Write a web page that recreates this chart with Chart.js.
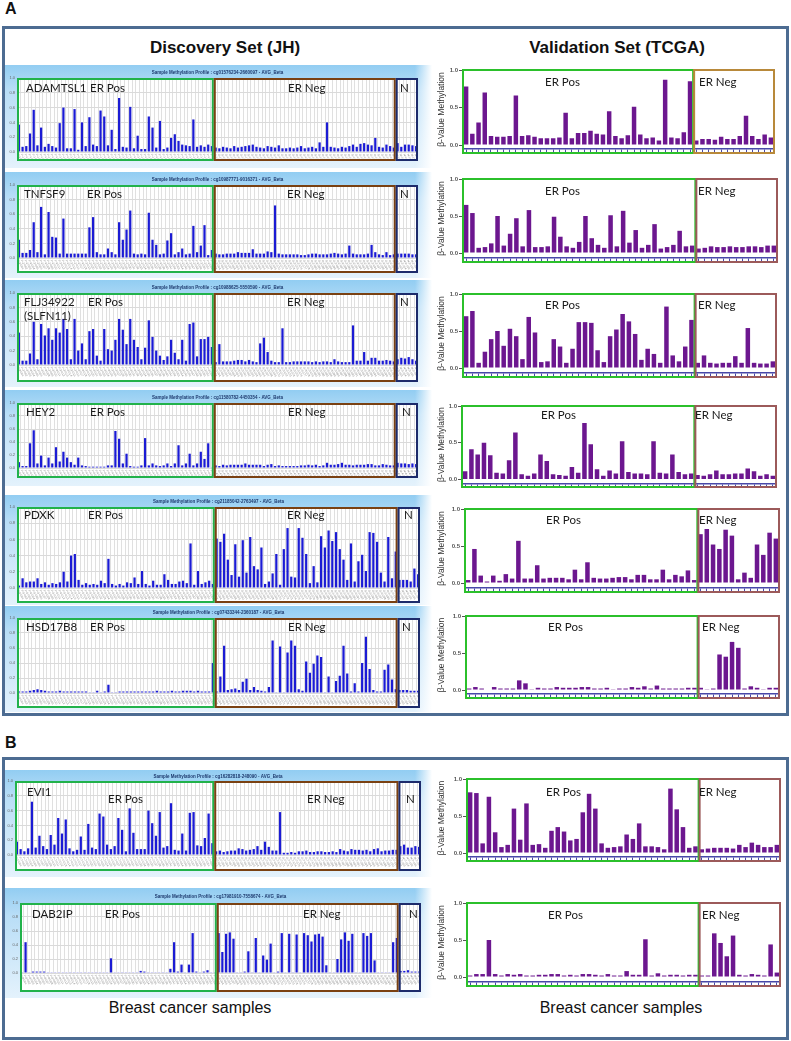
<!DOCTYPE html>
<html>
<head>
<meta charset="utf-8">
<script src="https://cdn.jsdelivr.net/npm/chart.js@4.4.1/dist/chart.umd.min.js"></script>
<style>
    body { margin: 0; width: 791px; height: 1041px; background: #fff; position: relative; overflow: hidden; font-family: "Liberation Sans", Arial, sans-serif; }
    .frame { position: absolute; border: 3px solid #4d6c92; box-sizing: border-box; }
    .letter { position: absolute; font-weight: bold; font-size: 16px; color: #111; }
    .head { position: absolute; width: 320px; text-align: center; font-weight: bold; font-size: 17px; color: #111; }
    .foot { position: absolute; width: 240px; text-align: center; font-size: 16px; color: #111; }
    .panel { position: absolute; left: 5px; width: 427px;
        background: linear-gradient(to right, rgba(255,255,255,0) 0%, rgba(255,255,255,0) 96%, #fff 100%),
                    linear-gradient(to bottom, #92cdf2 0%, #b9def7 25%, #e4f2fc 100%); }
    canvas { position: absolute; }
</style>
</head>
<body>
<div class="letter" style="left:5px;top:0px">A</div>
<div class="frame" style="left:2px;top:26px;width:787px;height:690px"></div>
<div class="head" style="left:65px;top:38px">Discovery Set (JH)</div>
<div class="head" style="left:457px;top:38px">Validation Set (TCGA)</div>
<div class="letter" style="left:5px;top:734px">B</div>
<div class="frame" style="left:2px;top:757px;width:787px;height:283px"></div>
<div class="foot" style="left:70px;top:999px">Breast cancer samples</div>
<div class="foot" style="left:501px;top:999px">Breast cancer samples</div>

<script>
// Tick values
const yTicksJH = [0, 0.2, 0.4, 0.6, 0.8, 1.0];
const yTicksTCGA = [0, 0.5, 1.0];

// ADAMTSL1
const adamtsl1JhPos = [0.37,0.07,0.08,0.25,0.57,0.09,0.33,0.07,0.11,0.08,0.06,0.39,0.60,0.05,0.05,0.58,0.03,0.40,0.08,0.47,0.10,0.08,0.56,0.48,0.09,0.30,0.04,0.73,0.07,0.06,0.61,0.05,0.22,0.04,0.04,0.48,0.33,0.06,0.42,0.04,0.06,0.19,0.24,0.15,0.10,0.09,0.08,0.44,0.07,0.09,0.07,0.10,0.08];
const adamtsl1JhNeg = [0.06,0.05,0.07,0.06,0.05,0.08,0.06,0.07,0.08,0.09,0.10,0.07,0.06,0.05,0.08,0.07,0.06,0.09,0.05,0.05,0.06,0.05,0.06,0.08,0.05,0.06,0.07,0.05,0.13,0.07,0.40,0.07,0.06,0.05,0.07,0.06,0.08,0.10,0.07,0.11,0.12,0.10,0.09,0.19,0.07,0.06,0.10,0.08,0.06];
const adamtsl1JhN = [0.12,0.07,0.10,0.10,0.09,0.08];
const adamtsl1TcgaPos = [0.78,0.15,0.30,0.70,0.12,0.11,0.11,0.12,0.66,0.12,0.13,0.11,0.09,0.09,0.09,0.10,0.43,0.09,0.16,0.16,0.19,0.15,0.14,0.45,0.12,0.09,0.13,0.51,0.14,0.09,0.10,0.06,0.87,0.10,0.09,0.17,0.85];
const adamtsl1TcgaNeg = [0.06,0.08,0.08,0.07,0.11,0.08,0.08,0.12,0.39,0.12,0.08,0.14,0.10];

// TNFSF9
const tnfsf9JhPos = [0.25,0.07,0.07,0.11,0.49,0.08,0.70,0.05,0.63,0.29,0.28,0.06,0.54,0.06,0.06,0.06,0.06,0.06,0.06,0.42,0.56,0.08,0.05,0.05,0.13,0.08,0.05,0.49,0.25,0.39,0.65,0.06,0.05,0.06,0.05,0.62,0.25,0.18,0.05,0.06,0.24,0.34,0.05,0.08,0.13,0.05,0.06,0.44,0.08,0.17,0.45,0.04,0.11];
const tnfsf9JhNeg = [0.06,0.05,0.05,0.06,0.06,0.06,0.08,0.07,0.07,0.07,0.12,0.06,0.06,0.06,0.09,0.08,0.72,0.06,0.05,0.05,0.05,0.05,0.05,0.04,0.04,0.05,0.06,0.06,0.05,0.05,0.05,0.06,0.07,0.06,0.05,0.06,0.17,0.06,0.05,0.05,0.05,0.06,0.18,0.08,0.05,0.04,0.08,0.04,0.05];
const tnfsf9JhN = [0.06,0.06,0.06,0.06,0.05,0.05];
const tnfsf9TcgaPos = [0.65,0.54,0.07,0.08,0.13,0.50,0.10,0.26,0.47,0.09,0.58,0.08,0.08,0.09,0.49,0.22,0.09,0.07,0.15,0.50,0.20,0.11,0.07,0.51,0.09,0.57,0.14,0.31,0.07,0.11,0.39,0.06,0.08,0.11,0.30,0.09,0.10];
const tnfsf9TcgaNeg = [0.06,0.07,0.09,0.08,0.08,0.09,0.08,0.08,0.09,0.09,0.08,0.10,0.10];

// FLJ34922 (SLFN11)
const flj34922JhPos = [0.45,0.06,0.06,0.16,0.60,0.08,0.57,0.41,0.51,0.35,0.51,0.45,0.64,0.50,0.08,0.64,0.20,0.30,0.08,0.47,0.50,0.13,0.06,0.50,0.22,0.20,0.35,0.64,0.49,0.29,0.64,0.35,0.25,0.08,0.24,0.62,0.39,0.20,0.13,0.07,0.12,0.35,0.17,0.08,0.35,0.06,0.57,0.59,0.12,0.36,0.36,0.39,0.25];
const flj34922JhNeg = [0.04,0.29,0.05,0.05,0.05,0.06,0.07,0.07,0.05,0.07,0.05,0.04,0.30,0.38,0.18,0.06,0.04,0.04,0.51,0.04,0.04,0.05,0.05,0.05,0.05,0.05,0.04,0.05,0.04,0.05,0.05,0.04,0.08,0.05,0.04,0.04,0.04,0.55,0.06,0.06,0.18,0.06,0.10,0.10,0.06,0.06,0.07,0.06,0.05];
const flj34922JhN = [0.08,0.10,0.09,0.11,0.08,0.06];
const flj34922TcgaPos = [0.70,0.77,0.07,0.22,0.39,0.50,0.30,0.53,0.43,0.12,0.69,0.48,0.08,0.09,0.39,0.29,0.07,0.26,0.62,0.62,0.61,0.24,0.08,0.43,0.52,0.73,0.63,0.46,0.11,0.26,0.19,0.07,0.83,0.17,0.09,0.29,0.65];
const flj34922TcgaNeg = [0.07,0.17,0.07,0.06,0.07,0.07,0.16,0.07,0.54,0.07,0.06,0.06,0.09];

// HEY2
const hey2JhPos = [0.09,0.03,0.03,0.38,0.58,0.07,0.19,0.04,0.16,0.07,0.32,0.10,0.25,0.16,0.09,0.05,0.16,0.04,0.03,0.02,0.02,0.02,0.02,0.02,0.04,0.04,0.57,0.45,0.07,0.22,0.03,0.02,0.02,0.04,0.46,0.04,0.07,0.04,0.03,0.04,0.07,0.03,0.07,0.35,0.04,0.07,0.22,0.04,0.07,0.25,0.14,0.38,0.01];
const hey2JhNeg = [0.04,0.03,0.05,0.04,0.05,0.05,0.05,0.05,0.07,0.05,0.05,0.05,0.05,0.03,0.05,0.06,0.03,0.04,0.03,0.03,0.03,0.03,0.03,0.04,0.04,0.05,0.04,0.05,0.03,0.04,0.08,0.05,0.05,0.06,0.08,0.05,0.05,0.04,0.05,0.05,0.05,0.06,0.06,0.04,0.04,0.06,0.05,0.04,0.04];
const hey2JhN = [0.08,0.07,0.07,0.06,0.07,0.06];
const hey2TcgaPos = [0.11,0.41,0.34,0.50,0.33,0.09,0.08,0.26,0.64,0.07,0.05,0.08,0.34,0.25,0.07,0.06,0.05,0.17,0.09,0.77,0.48,0.14,0.05,0.12,0.08,0.52,0.10,0.08,0.08,0.07,0.52,0.09,0.08,0.34,0.10,0.07,0.08];
const hey2TcgaNeg = [0.06,0.05,0.07,0.12,0.07,0.07,0.08,0.08,0.15,0.11,0.05,0.07,0.05];

// PDXK
const pdxkJhPos = [0.03,0.12,0.07,0.08,0.08,0.12,0.05,0.07,0.04,0.06,0.05,0.07,0.20,0.08,0.40,0.42,0.10,0.04,0.06,0.04,0.05,0.04,0.09,0.06,0.36,0.05,0.03,0.05,0.03,0.07,0.06,0.13,0.05,0.21,0.05,0.03,0.09,0.04,0.04,0.17,0.10,0.05,0.05,0.08,0.09,0.06,0.55,0.04,0.21,0.05,0.07,0.09,0.05];
const pdxkJhNeg = [0.61,0.57,0.67,0.35,0.16,0.54,0.14,0.59,0.19,0.63,0.27,0.23,0.50,0.05,0.08,0.18,0.42,0.04,0.48,0.74,0.14,0.13,0.74,0.62,0.42,0.06,0.27,0.07,0.64,0.50,0.71,0.58,0.69,0.48,0.35,0.10,0.55,0.08,0.33,0.41,0.21,0.69,0.68,0.57,0.19,0.08,0.63,0.12,0.45];
const pdxkJhN = [0.10,0.10,0.10,0.08,0.24,0.17];
const pdxkTcgaPos = [0.04,0.46,0.10,0.02,0.10,0.03,0.12,0.06,0.57,0.06,0.06,0.24,0.06,0.07,0.07,0.07,0.05,0.18,0.05,0.28,0.07,0.06,0.06,0.07,0.08,0.08,0.05,0.11,0.11,0.05,0.05,0.18,0.05,0.11,0.09,0.17,0.04];
const pdxkTcgaNeg = [0.66,0.73,0.52,0.46,0.72,0.64,0.05,0.14,0.07,0.52,0.38,0.68,0.60];

// HSD17B8
const hsd17b8JhPos = [0.02,0.02,0.02,0.03,0.04,0.05,0.04,0.03,0.02,0.02,0.02,0.03,0.02,0.02,0.02,0.02,0.02,0.02,0.02,0.01,0.01,0.03,0.01,0.02,0.11,0.01,0.01,0.02,0.02,0.02,0.02,0.02,0.02,0.02,0.02,0.02,0.02,0.03,0.02,0.02,0.02,0.03,0.02,0.02,0.03,0.03,0.03,0.02,0.03,0.02,0.02,0.02,0.40];
const hsd17b8JhNeg = [0.02,0.22,0.63,0.04,0.05,0.06,0.04,0.15,0.19,0.04,0.08,0.04,0.03,0.02,0.08,0.70,0.01,0.62,0.01,0.54,0.70,0.63,0.05,0.03,0.42,0.27,0.39,0.50,0.48,0.01,0.22,0.01,0.16,0.23,0.63,0.26,0.02,0.13,0.02,0.40,0.75,0.32,0.04,0.02,0.02,0.31,0.38,0.18,0.05];
const hsd17b8JhN = [0.04,0.04,0.04,0.03,0.03,0.03];
const hsd17b8TcgaPos = [0.02,0.04,0.02,0.00,0.04,0.02,0.02,0.02,0.13,0.09,0.01,0.03,0.02,0.02,0.04,0.03,0.03,0.03,0.04,0.04,0.02,0.02,0.03,0.01,0.02,0.02,0.04,0.03,0.05,0.02,0.06,0.02,0.02,0.02,0.02,0.03,0.03];
const hsd17b8TcgaNeg = [0.03,0.01,0.02,0.48,0.45,0.65,0.57,0.02,0.05,0.03,0.01,0.03,0.03];

// EVI1
const evi1JhPos = [0.18,0.08,0.05,0.09,0.72,0.10,0.26,0.12,0.08,0.27,0.14,0.50,0.29,0.48,0.09,0.05,0.07,0.25,0.07,0.42,0.10,0.08,0.56,0.52,0.14,0.08,0.12,0.50,0.34,0.05,0.63,0.30,0.08,0.08,0.08,0.60,0.43,0.26,0.58,0.10,0.12,0.70,0.07,0.06,0.29,0.06,0.57,0.58,0.13,0.12,0.23,0.56,0.16];
const evi1JhNeg = [0.05,0.06,0.04,0.05,0.06,0.06,0.09,0.08,0.06,0.07,0.08,0.12,0.07,0.18,0.11,0.06,0.06,0.58,0.03,0.03,0.04,0.03,0.05,0.05,0.06,0.04,0.04,0.05,0.05,0.04,0.04,0.05,0.04,0.08,0.06,0.05,0.08,0.07,0.07,0.06,0.07,0.05,0.08,0.09,0.05,0.06,0.06,0.07,0.07];
const evi1JhN = [0.12,0.14,0.10,0.10,0.12,0.11];
const evi1TcgaPos = [0.82,0.81,0.13,0.76,0.28,0.08,0.11,0.60,0.18,0.67,0.11,0.12,0.07,0.30,0.35,0.29,0.17,0.19,0.55,0.80,0.60,0.13,0.07,0.08,0.09,0.25,0.19,0.40,0.09,0.09,0.08,0.05,0.87,0.59,0.35,0.07,0.09];
const evi1TcgaNeg = [0.05,0.06,0.07,0.07,0.07,0.06,0.11,0.08,0.14,0.11,0.08,0.08,0.11];

// DAB2IP
const dab2ipJhPos = [0.01,0.44,0.01,0.02,0.02,0.02,0.02,0.01,0.01,0.01,0.01,0.01,0.01,0.01,0.01,0.01,0.01,0.01,0.01,0.01,0.01,0.01,0.01,0.01,0.21,0.01,0.01,0.01,0.01,0.01,0.01,0.01,0.03,0.02,0.01,0.01,0.01,0.01,0.01,0.01,0.06,0.44,0.02,0.12,0.01,0.12,0.57,0.02,0.01,0.02,0.04,0.01,0.01];
const dab2ipJhNeg = [0.57,0.30,0.56,0.58,0.49,0.01,0.01,0.02,0.31,0.01,0.50,0.01,0.25,0.19,0.42,0.01,0.02,0.57,0.01,0.56,0.01,0.55,0.01,0.57,0.54,0.45,0.55,0.56,0.52,0.11,0.01,0.01,0.20,0.48,0.58,0.46,0.56,0.01,0.01,0.57,0.53,0.57,0.18,0.01,0.01,0.01,0.01,0.44,0.50];
const dab2ipJhN = [0.03,0.03,0.04,0.02,0.02,0.02];
const dab2ipTcgaPos = [0.02,0.04,0.04,0.50,0.04,0.02,0.04,0.03,0.04,0.02,0.02,0.03,0.03,0.04,0.04,0.02,0.03,0.02,0.04,0.04,0.03,0.02,0.04,0.02,0.02,0.08,0.03,0.03,0.51,0.02,0.05,0.02,0.03,0.03,0.02,0.03,0.03];
const dab2ipTcgaNeg = [0.02,0.02,0.59,0.46,0.28,0.56,0.03,0.02,0.04,0.03,0.02,0.44,0.06];

// Layout of the discovery (JH) panels
const jhPanels = [
    { pos: adamtsl1JhPos, neg: adamtsl1JhNeg, nrm: adamtsl1JhN, probe: 'cg01576234-2660097',
      top: 65, boxTop: 78, base: 152, boxBottom: 161, left: 17, right: 418, bgBottom: 168,
      text: [['ADAMTSL1', 26, 10], ['ER Pos', 90, 10], ['ER Neg', 288, 10], ['N', 400, 10]] },
    { pos: tnfsf9JhPos, neg: tnfsf9JhNeg, nrm: tnfsf9JhN, probe: 'cg10987771-9016371',
      top: 172, boxTop: 185, base: 258, boxBottom: 273, left: 17, right: 418, bgBottom: 278,
      text: [['TNFSF9', 24, 9], ['ER Pos', 87, 9], ['ER Neg', 287, 9], ['N', 400, 9]] },
    { pos: flj34922JhPos, neg: flj34922JhNeg, nrm: flj34922JhN, probe: 'cg10988625-5550590',
      top: 280, boxTop: 293, base: 365, boxBottom: 382, left: 17, right: 418, bgBottom: 387,
      text: [['FLJ34922', 24, 9], ['(SLFN11)', 24, 23], ['ER Pos', 88, 9], ['ER Neg', 287, 9], ['N', 400, 9]] },
    { pos: hey2JhPos, neg: hey2JhNeg, nrm: hey2JhN, probe: 'cg11580782-4450354',
      top: 390, boxTop: 403, base: 468, boxBottom: 478, left: 17, right: 418, bgBottom: 486,
      text: [['HEY2', 26, 9], ['ER Pos', 90, 9], ['ER Neg', 288, 9], ['N', 402, 9]] },
    { pos: pdxkJhPos, neg: pdxkJhNeg, nrm: pdxkJhN, probe: 'cg21185042-2763497',
      top: 495, boxTop: 507, base: 588, boxBottom: 603, left: 17, right: 420, bgBottom: 605,
      text: [['PDXK', 24, 8], ['ER Pos', 88, 8], ['ER Neg', 287, 8], ['N', 404, 8]] },
    { pos: hsd17b8JhPos, neg: hsd17b8JhNeg, nrm: hsd17b8JhN, probe: 'cg07433344-2360187',
      top: 606, boxTop: 618, base: 693, boxBottom: 708, left: 17, right: 420, bgBottom: 712,
      text: [['HSD17B8', 26, 9], ['ER Pos', 90, 9], ['ER Neg', 288, 9], ['N', 402, 9]] },
    { pos: evi1JhPos, neg: evi1JhNeg, nrm: evi1JhN, probe: 'cg16282818-248090',
      top: 770, boxTop: 781, base: 855, boxBottom: 871, left: 15, right: 421, bgBottom: 877,
      text: [['EVI1', 27, 11], ['ER Pos', 108, 18], ['ER Neg', 307, 18], ['N', 406, 18]] },
    { pos: dab2ipJhPos, neg: dab2ipJhNeg, nrm: dab2ipJhN, probe: 'cg17981910-7558674',
      top: 888, boxTop: 903, base: 973, boxBottom: 992, left: 20, right: 421, bgBottom: 998,
      text: [['DAB2IP', 32, 11], ['ER Pos', 105, 11], ['ER Neg', 303, 11], ['N', 409, 11]] }
];

// Layout of the validation (TCGA) panels
const tcgaPanels = [
    { pos: adamtsl1TcgaPos, neg: adamtsl1TcgaNeg, top: 70, zero: 145, axis: 149, bottom: 154, left: 463, right: 774, negColor: '#b8893a', text: [['ER Pos', 545, 12], ['ER Neg', 699, 12]] },
    { pos: tnfsf9TcgaPos, neg: tnfsf9TcgaNeg, top: 179, zero: 253, axis: 258, bottom: 263, left: 463, right: 777, negColor: '#9c5a5a', text: [['ER Pos', 545, 12], ['ER Neg', 698, 12]] },
    { pos: flj34922TcgaPos, neg: flj34922TcgaNeg, top: 294, zero: 368, axis: 373, bottom: 378, left: 463, right: 776, negColor: '#9c5a5a', text: [['ER Pos', 545, 11], ['ER Neg', 698, 11]] },
    { pos: hey2TcgaPos, neg: hey2TcgaNeg, top: 406, zero: 480, axis: 484, bottom: 488, left: 462, right: 776, negColor: '#9c5a5a', text: [['ER Pos', 541, 9], ['ER Neg', 695, 9]] },
    { pos: pdxkTcgaPos, neg: pdxkTcgaNeg, top: 509, zero: 583, axis: 588, bottom: 593, left: 465, right: 779, negColor: '#9c5a5a', text: [['ER Pos', 546, 11], ['ER Neg', 699, 11]] },
    { pos: hsd17b8TcgaPos, neg: hsd17b8TcgaNeg, top: 616, zero: 690, axis: 694, bottom: 699, left: 466, right: 779, negColor: '#9c5a5a', text: [['ER Pos', 548, 11], ['ER Neg', 702, 11]] },
    { pos: evi1TcgaPos, neg: evi1TcgaNeg, top: 779, zero: 853, axis: 857, bottom: 862, left: 467, right: 780, negColor: '#9c5a5a', text: [['ER Pos', 546, 13], ['ER Neg', 699, 13]] },
    { pos: dab2ipTcgaPos, neg: dab2ipTcgaNeg, top: 903, zero: 977, axis: 982, bottom: 987, left: 467, right: 780, negColor: '#9c5a5a', text: [['ER Pos', 548, 12], ['ER Neg', 702, 12]] }
];

Chart.defaults.font.family = '"Liberation Sans", Arial, sans-serif';
const boxFont = '11.5px Lato, "Open Sans", sans-serif';
const JH_LEFT = 5;
const TCGA_LEFT = 434;

function addCanvas(left, top, w, h) {
    const cv = document.createElement('canvas');
    cv.width = w; cv.height = h;
    cv.style.left = left + 'px'; cv.style.top = top + 'px';
    document.body.appendChild(cv);
    return cv;
}

// boundary between category i-1 and i
function splitAt(x, i) {
    return (x.getPixelForValue(i - 1) + x.getPixelForValue(i)) / 2;
}

function drawLabels(ctx, text, boxTop) {
    ctx.font = boxFont;
    ctx.fillStyle = '#1a1a1a';
    ctx.textBaseline = 'middle';
    ctx.textAlign = 'left';
    text.forEach(([t, x, dy]) => ctx.fillText(t, x, boxTop + dy));
}

const jhDecor = (p) => ({
    id: 'jhDecor',
    beforeDraw(chart) {
        const { ctx, chartArea: a } = chart;
        ctx.save();
        ctx.fillStyle = '#fff';
        ctx.fillRect(a.left, a.top, a.right - a.left, chart.height - a.top);
        ctx.restore();
    },
    afterDraw(chart) {
        const { ctx, chartArea: a, scales: { x } } = chart;
        const bottom = chart.height - 1;
        ctx.save();
        // sample ids under the bars
        ctx.font = '3px "Liberation Sans"';
        ctx.fillStyle = '#8a8a8a';
        ctx.textBaseline = 'middle';
        chart.data.labels.forEach((lab, i) => {
            ctx.save();
            ctx.translate(x.getPixelForValue(i) - 1, a.bottom + 2);
            ctx.rotate(Math.PI / 3);
            ctx.fillText(lab, 0, 0);
            ctx.restore();
        });
        // group boxes
        const b1 = splitAt(x, p.pos.length);
        const b2 = splitAt(x, p.pos.length + p.neg.length);
        ctx.lineWidth = 2;
        [[a.left + 1, b1 - 1, '#22b24b'], [b1 + 1, b2 - 1, '#7a4112'], [b2 + 1, a.right - 1, '#1d2b6b']].forEach(([l, r, c]) => {
            ctx.strokeStyle = c;
            ctx.strokeRect(l, a.top + 1, r - l, bottom - a.top - 1);
        });
        // profile title in the blue band
        ctx.font = 'bold 4.5px "Liberation Sans"';
        ctx.fillStyle = '#1e3a6e';
        ctx.textAlign = 'center';
        ctx.textBaseline = 'middle';
        ctx.fillText('Sample Methylation Profile : ' + p.probe + ' - AVG_Beta', (a.left + a.right) / 2, a.top / 2 + 1);
        drawLabels(ctx, p.text.map(([t, tx, dy]) => [t, tx - JH_LEFT, dy]), a.top);
        ctx.restore();
    }
});

const tcgaDecor = (p) => ({
    id: 'tcgaDecor',
    afterDraw(chart) {
        const { ctx, chartArea: a, scales: { x } } = chart;
        const bottom = chart.height - 1;
        const b1 = splitAt(x, p.pos.length);
        ctx.save();
        ctx.lineWidth = 2;
        ctx.strokeStyle = '#2bc02b';
        ctx.strokeRect(a.left, a.top, b1 - a.left, bottom - a.top);
        ctx.strokeStyle = p.negColor;
        ctx.strokeRect(b1 + 1, a.top, a.right - b1 - 1, bottom - a.top);
        drawLabels(ctx, p.text.map(([t, tx, dy]) => [t, tx - TCGA_LEFT, dy]), a.top);
        ctx.restore();
    }
});

function drawJH(p, row) {
    const bg = document.createElement('div');
    bg.className = 'panel';
    bg.style.top = p.top + 'px';
    bg.style.height = (p.bgBottom - p.top) + 'px';
    document.body.appendChild(bg);

    const values = p.pos.concat(p.neg, p.nrm);
    const labels = values.map((_, i) => (i < p.pos.length ? 'P' : i < p.pos.length + p.neg.length ? 'G' : 'N') + '-' + (row + 1) + '-' + String(i + 1).padStart(3, '0'));
    const cv = addCanvas(JH_LEFT, p.top, p.right - JH_LEFT, p.boxBottom - p.top);
    new Chart(cv, {
        type: 'bar',
        data: { labels, datasets: [{ data: values, backgroundColor: '#1b1bd4', barPercentage: 0.6, categoryPercentage: 1 }] },
        options: {
            responsive: false, animation: false, devicePixelRatio: 1,
            layout: { padding: { top: p.boxTop - p.top, left: 0, right: 0, bottom: 0 } },
            plugins: { legend: { display: false }, tooltip: { enabled: false } },
            scales: {
                x: {
                    ticks: { display: false },
                    grid: { color: '#e0e0e0', drawTicks: false, offset: true },
                    border: { display: false },
                    afterFit: (s) => { s.height = p.boxBottom - p.base; }
                },
                y: {
                    min: 0, max: 1,
                    afterBuildTicks: (s) => { s.ticks = yTicksJH.map(v => ({ value: v })); },
                    ticks: { font: { size: 4 }, color: '#666', padding: 2, callback: (v) => v.toFixed(1) },
                    grid: { color: '#dadada', drawTicks: false },
                    border: { display: false },
                    afterFit: (s) => { s.width = p.left - JH_LEFT; }
                }
            }
        },
        plugins: [jhDecor(p)]
    });
}

function drawTCGA(p, row) {
    const values = p.pos.concat(p.neg);
    const labels = values.map((_, i) => 'TCGA-' + (row + 1) + '-' + (i + 1));
    const pad = 6;
    const cv = addCanvas(TCGA_LEFT, p.top - pad, p.right + 3 - TCGA_LEFT, p.bottom - p.top + pad);
    const axisColor = '#4848a8';
    new Chart(cv, {
        type: 'bar',
        data: { labels, datasets: [{ data: values, backgroundColor: '#6c178f', barPercentage: 0.72, categoryPercentage: 1 }] },
        options: {
            responsive: false, animation: false, devicePixelRatio: 1,
            layout: { padding: { top: pad, left: 0, right: 3, bottom: 0 } },
            plugins: { legend: { display: false }, tooltip: { enabled: false } },
            scales: {
                x: {
                    ticks: { display: false },
                    grid: { display: true, drawOnChartArea: false, drawTicks: true, tickLength: 3, color: axisColor, offset: false },
                    border: { display: true, color: axisColor, width: 1.5 },
                    afterFit: (s) => { s.height = p.bottom - p.axis; }
                },
                y: {
                    min: -(p.axis - p.zero) / (p.zero - p.top), max: 1,
                    afterBuildTicks: (s) => { s.ticks = yTicksTCGA.map(v => ({ value: v })); },
                    ticks: { font: { size: 6, weight: 'bold' }, color: '#555', padding: 1, callback: (v) => v.toFixed(1) },
                    grid: { drawOnChartArea: false, drawTicks: true, tickLength: 4, color: '#555' },
                    border: { display: true, color: '#555' },
                    title: { display: true, text: 'β-Value Methylation', color: '#333', font: { size: 8.5 }, padding: { top: 3, bottom: 0 } },
                    afterFit: (s) => { s.width = p.left - TCGA_LEFT; }
                }
            }
        },
        plugins: [tcgaDecor(p)]
    });
}

jhPanels.forEach(drawJH);
tcgaPanels.forEach(drawTCGA);
</script>
</body>
</html>
